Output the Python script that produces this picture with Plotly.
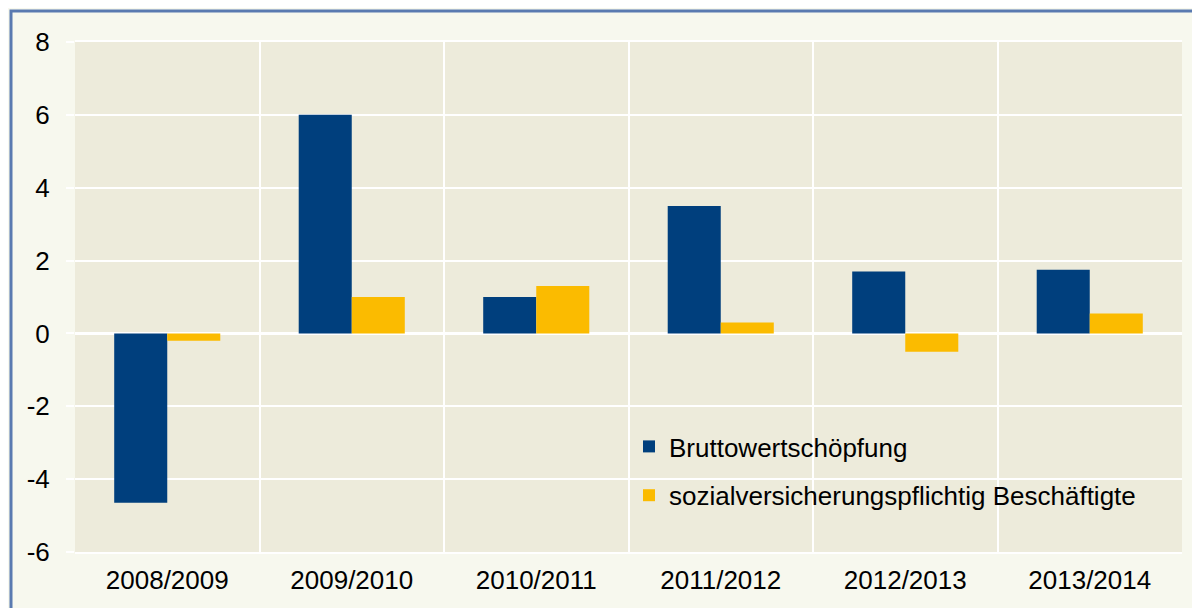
import plotly.graph_objects as go

categories = ["2008/2009", "2009/2010", "2010/2011", "2011/2012", "2012/2013", "2013/2014"]
brutto = [-4.65, 6.0, 1.0, 3.5, 1.7, 1.75]
sozial = [-0.2, 1.0, 1.3, 0.3, -0.5, 0.55]
series_names = ["Bruttowertschöpfung", "sozialversicherungspflichtig Beschäftigte"]
y_ticks = [-6, -4, -2, 0, 2, 4, 6, 8]
y_ticktext = ["-6", "-4", "-2", "0", "2", "4", "6", "8"]

FONT = "Liberation Sans, Arial, sans-serif"
OFF = 8  # default body margin of the html page
W, H = 1200 - OFF, 608 - OFF
ML, MR, MT, MB = 75 - OFF, 18, 42 - OFF, 56
PW, PH = W - ML - MR, H - MT - MB

def px_x(p):
    # page pixel -> paper coordinate
    return (p - OFF - ML) / PW

def px_y(p):
    return (H - MB - (p - OFF)) / PH

fig = go.Figure()
fig.add_trace(go.Bar(x=categories, y=brutto, name=series_names[0],
                     marker=dict(color="#003F7D", line=dict(width=0)), legendgroup="a"))
fig.add_trace(go.Bar(x=categories, y=sozial, name=series_names[1],
                     marker=dict(color="#FBBB00", line=dict(width=0)), legendgroup="b"))

fig.update_layout(
    width=W, height=H,
    margin=dict(l=ML, r=MR, t=MT, b=MB),
    paper_bgcolor="#F7F8EE",
    plot_bgcolor="#EDEBDB",
    barmode="group",
    bargap=0.425,
    bargroupgap=0,
    font=dict(family=FONT, size=26, color="#000000"),
    showlegend=True,
    legend=dict(x=px_x(629), y=px_y(423), xanchor="left", yanchor="top",
                bgcolor="rgba(0,0,0,0)", font=dict(size=26, family=FONT),
                traceorder="grouped", tracegroupgap=12, itemwidth=30),
    xaxis=dict(type="category", tickson="boundaries", showgrid=True,
               gridcolor="#FFFFFF", gridwidth=2, ticks="", showline=True,
               mirror=True, linecolor="#FFFFFF", linewidth=2,
               ticklabelstandoff=4, tickfont=dict(size=26)),
    yaxis=dict(range=[-6, 8], tickvals=y_ticks, ticktext=y_ticktext, showgrid=True,
               gridcolor="#FFFFFF", gridwidth=2, zeroline=True,
               zerolinecolor="#FFFFFF", zerolinewidth=3,
               ticks="outside", ticklen=8, tickcolor="#FFFFFF", tickwidth=2,
               ticklabelstandoff=11, tickfont=dict(size=26), showline=False),
    shapes=[
        dict(type="path", xref="paper", yref="paper",
             path=f"M {px_x(11)} {px_y(640)} L {px_x(11)} {px_y(11)} L {px_x(1230)} {px_y(11)}",
             line=dict(color="#5A7AB0", width=3), layer="above"),
    ],
)

fig.write_html("out.html")
